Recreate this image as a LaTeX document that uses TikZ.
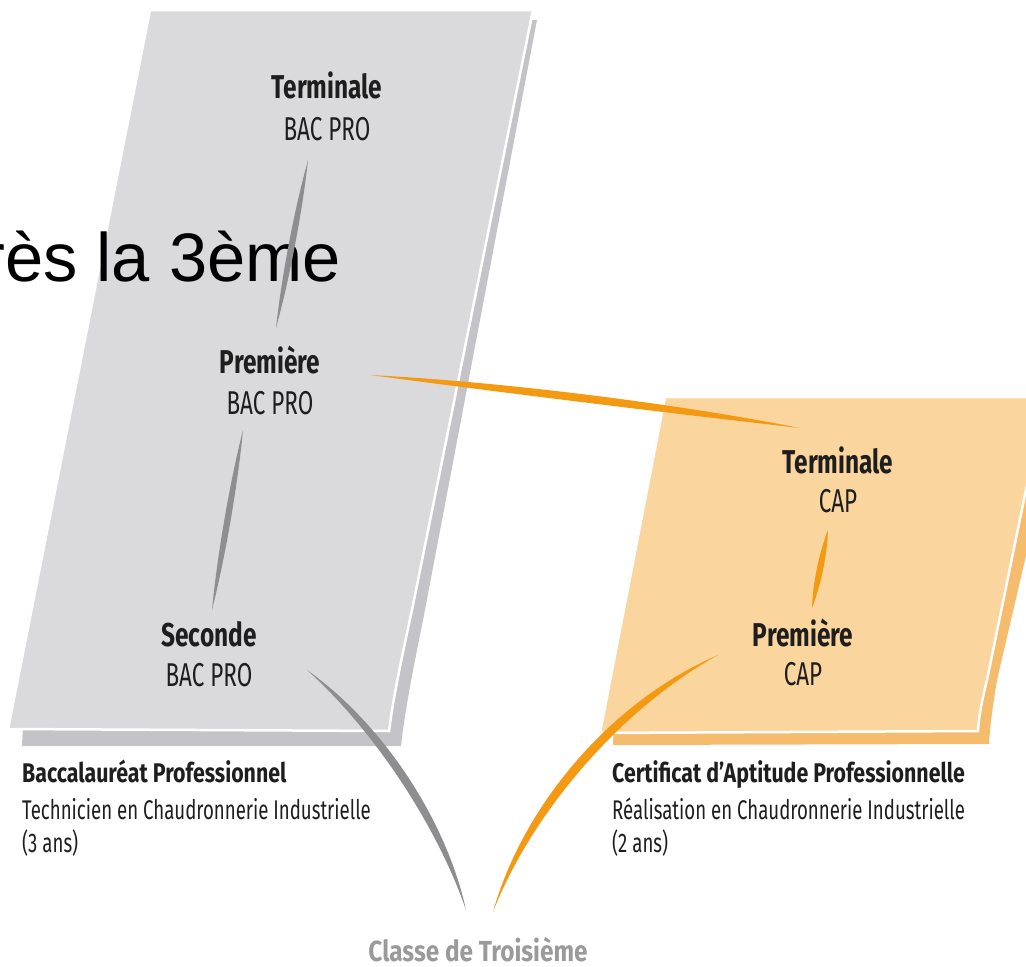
\documentclass[tikz,border=0pt]{standalone}
\usepackage{fontspec}
\usetikzlibrary{calc}
\newfontfamily\condf{Fira Sans}[FakeStretch=0.69]
\newfontfamily\condsub{Fira Sans}[FakeStretch=0.68]
\newfontfamily\condbh{Fira Sans}[FakeStretch=0.74]
\newfontfamily\condbc{Fira Sans}[FakeStretch=0.79]
\newfontfamily\condbr{Fira Sans}[FakeStretch=0.84]
\newfontfamily\arialf{Liberation Sans}
\definecolor{sheetgray}{HTML}{DADADC}
\definecolor{shadegray}{HTML}{C4C4C8}
\definecolor{sheetorange}{HTML}{FBD59E}
\definecolor{shadeorange}{HTML}{F6BC6E}
\definecolor{brushgray}{HTML}{8E8E90}
\definecolor{brushorange}{HTML}{F39A12}
\definecolor{inkdark}{HTML}{1E1E1E}
\definecolor{inkgray}{HTML}{9A9A9A}
\newcommand\brush[5]{%
  \fill[#5] (#1) .. controls ($(#1)!0.3!(#2)!{(#4+#3)*1pt}!90:(#2)$) and ($(#1)!0.7!(#2)!{(#4+#3)*1pt}!90:(#2)$) .. (#2)
    .. controls ($(#1)!0.7!(#2)!{(#4-#3)*1pt}!90:(#2)$) and ($(#1)!0.3!(#2)!{(#4-#3)*1pt}!90:(#2)$) .. (#1) -- cycle;}
\tikzset{
  head/.style={inner sep=0pt, anchor=base, text=inkdark, font=\condbh\bfseries\fontsize{33}{40}\selectfont},
  sub/.style={inner sep=0pt, anchor=base, text=inkdark, font=\condsub\fontsize{33}{40}\selectfont},
  caphead/.style={inner sep=0pt, anchor=base west, text=inkdark, font=\condbc\bfseries\fontsize{27}{32}\selectfont},
  captext/.style={inner sep=0pt, anchor=base west, text=inkdark, font=\condf\fontsize{27}{32}\selectfont},
  rootlabel/.style={inner sep=0pt, anchor=base, text=inkgray, font=\condbr\bfseries\fontsize{29}{32}\selectfont},
  bigtitle/.style={inner sep=0pt, anchor=base east, text=black, font=\arialf\fontsize{68.6}{80}\selectfont},
}
\begin{document}
\begin{tikzpicture}[x=1pt,y=-1pt]
\useasboundingbox (0,0) rectangle (1026,967);
\clip (0,0) rectangle (1026,967);
% grey sheet (BAC PRO)
\fill[shadegray] (170,20) -- (537,20) -- (424,615) .. controls (412,675) and (405,710) .. (401,746) -- (22,746) -- (24,700) -- cycle;
\fill[sheetgray, draw=white, line width=2.5pt] (150,10) -- (533,10) -- (412,610) .. controls (400,665) and (393,700) .. (389,731) -- (8,729) -- cycle;
% orange sheet (CAP)
\fill[shadeorange] (700,410) -- (1060,410) -- (997,680) .. controls (993,705) and (990,725) .. (989,744) -- (613,745) -- (615,700) -- cycle;
\fill[sheetorange, draw=white, line width=2.5pt] (665,397) -- (1045,397) -- (987,680) .. controls (982,700) and (979,715) .. (978,731) -- (600,733) -- cycle;
% partial title
\node[bigtitle] (title) at (341,281) {rès la 3ème};
% level labels
\node[head] (bt) at (327,98) {Terminale};
\node[sub] (btb) at (327,140) {BAC PRO};
\node[head] (bp) at (270,373) {Première};
\node[sub] (bpb) at (270,414) {BAC PRO};
\node[head] (bs) at (209,646) {Seconde};
\node[sub] (bsb) at (209,686) {BAC PRO};
\node[head] (ct) at (838,473) {Terminale};
\node[sub] (ctb) at (838,512) {CAP};
\node[head] (cp) at (803,646) {Première};
\node[sub] (cpb) at (803,685) {CAP};
% captions
\node[caphead] (bacname) at (22,782) {Baccalauréat Professionnel};
\node[captext] (bacspec) at (22,819) {Technicien en Chaudronnerie Industrielle};
\node[captext] (bacdur) at (22,852) {(3 ans)};
\node[caphead] (capname) at (612,782) {Certificat d’Aptitude Professionnelle};
\node[captext] (capspec) at (612,819) {Réalisation en Chaudronnerie Industrielle};
\node[captext] (capdur) at (612,852) {(2 ans)};
\node[rootlabel] (tro) at (478,961) {Classe de Troisième};
% connector end points
\path (btb.base) ++(-19,20) coordinate (g1s);
\path (bp.base) ++(6,-45) coordinate (g1e);
\path (bpb.base) ++(-27,16) coordinate (g2s);
\path (bs.base) ++(3,-36) coordinate (g2e);
\path (bsb.base) ++(98,-16) coordinate (g3s);
\path (tro.base) ++(-12,-51) coordinate (g3e);
\path (bp.base) ++(100,2) coordinate (o1s);
\path (ct.base) ++(-38,-45) coordinate (o1e);
\path (ctb.base) ++(-10,18) coordinate (o2s);
\path (cp.base) ++(9,-38) coordinate (o2e);
\path (cp.base) ++(-85,9) coordinate (o3s);
\path (tro.base) ++(15,-49) coordinate (o3e);
% brush-stroke connectors
\brush{g1s}{g1e}{4.2}{0}{brushgray}
\brush{g2s}{g2e}{4.2}{0}{brushgray}
\brush{g3s}{g3e}{5.5}{28}{brushgray}
\brush{o1s}{o1e}{5.3}{4}{brushorange}
\brush{o2s}{o2e}{4.2}{0}{brushorange}
\brush{o3s}{o3e}{6}{-43}{brushorange}
\end{tikzpicture}
\end{document}
